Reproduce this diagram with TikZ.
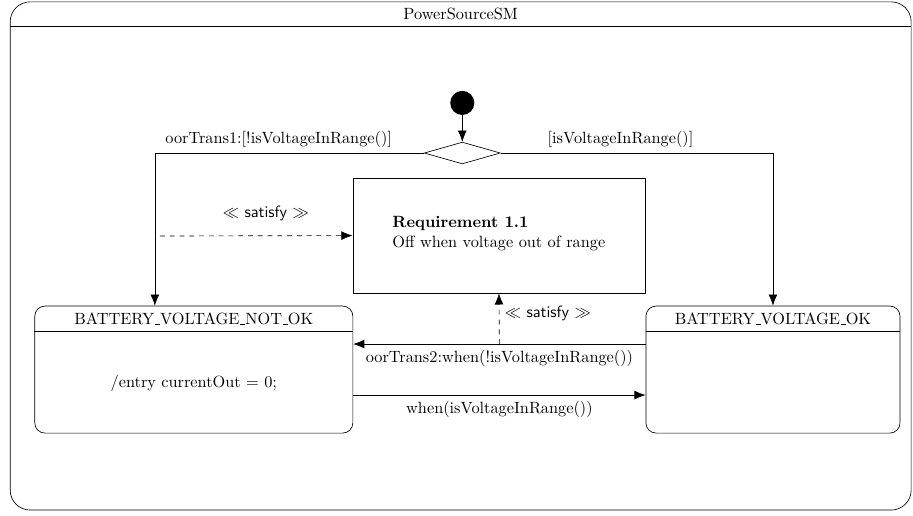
\documentclass[tikz,border=0pt]{standalone}
\usepackage{amsmath}
\usepackage{amssymb}
\usetikzlibrary{shapes.geometric,arrows.meta,positioning}
\newcommand{\us}{\leavevmode\kern.06em\vbox{\hrule width.3em}}

\begin{document}
\begin{tikzpicture}[>={Latex[length=2.4mm,width=1.9mm]},
  statebox/.style={draw,rectangle,rounded corners=0.22cm,minimum width=6.86cm,minimum height=2.74cm},
  satlabel/.style={font=\sffamily}]
\useasboundingbox (0,0) rectangle (19.69,11.11);
% state machine frame
\path (9.935,5.59) node (sm) [draw,rectangle,rounded corners=0.43cm,minimum width=19.43cm,minimum height=10.96cm] {};
\path (9.935,10.81) node (smtitle) {PowerSourceSM};
\draw ([yshift=-0.54cm]sm.north west) -- ([yshift=-0.54cm]sm.north east);

% initial and choice
\path (9.97,8.89) node (init) [shape=circle,fill,minimum size=0.52cm,inner sep=0pt] {};
\path (9.97,7.81) node (choice) [shape=diamond,draw,minimum width=1.64cm,minimum height=0.47cm,inner sep=0pt] {};

% requirement
\path (10.76,6.03) node (req) [draw,rectangle,minimum width=6.30cm,minimum height=2.48cm] {};
\path (8.34,6.07) node (reqtext) [anchor=west,align=left] {\textbf{Requirement 1.1}\\Off when voltage out of range};

% states
\path (4.18,3.14) node (notok) [statebox] {};
\path (4.18,4.23) node (notoktitle) {BATTERY\us VOLTAGE\us NOT\us OK};
\draw ([yshift=-0.56cm]notok.north west) -- ([yshift=-0.56cm]notok.north east);
\path (4.18,2.85) node (notokbody) {/entry currentOut $=$ 0;};

\path (16.67,3.14) node (ok) [statebox,minimum width=5.48cm] {};
\path (16.67,4.23) node (oktitle) {BATTERY\us VOLTAGE\us OK};
\draw ([yshift=-0.56cm]ok.north west) -- ([yshift=-0.56cm]ok.north east);

% transitions
\draw [->] (init) to (choice);
\draw [->] (choice.west) -| ([xshift=-0.84cm]notok.north) node [pos=0.27,above] {oorTrans1:[!isVoltageInRange()]};
\draw [->] (choice.east) -| (ok.north) node [pos=0.22,above] {[isVoltageInRange()]};
\draw [->] ([yshift=0.55cm]ok.west) -- ([yshift=0.55cm]notok.east) coordinate [midway] (t2mid) node [midway,below] {oorTrans2:when(!isVoltageInRange())};
\draw [->] ([yshift=-0.55cm]notok.east) -- ([yshift=-0.55cm]ok.west) node [midway,below] {when(isVoltageInRange())};

% satisfy links
\coordinate (sat1) at (3.45,6.02);
\draw [dashed,->] (sat1) -- (req.west) node [pos=0.55,above=0.2cm,satlabel] {$\ll$ satisfy $\gg$};
\draw [dashed,->] (t2mid) -- (req.south) node [pos=0.6,right,satlabel] {$\ll$ satisfy $\gg$};
\end{tikzpicture}
\end{document}
